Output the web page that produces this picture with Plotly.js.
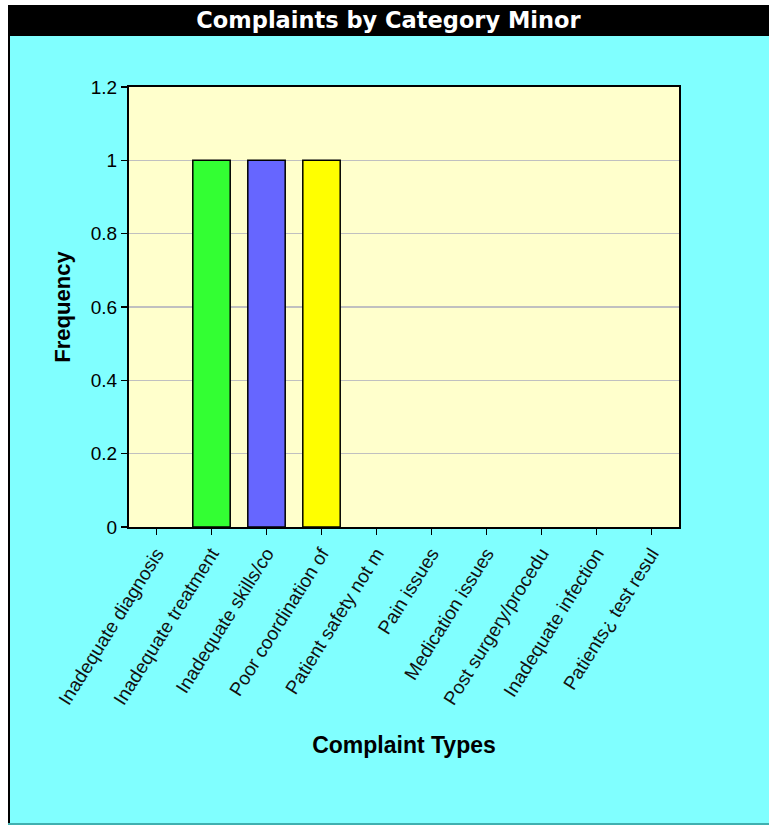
<!DOCTYPE html>
<html>
<head>
<meta charset="utf-8">
<script src="https://cdn.plot.ly/plotly-3.0.1.min.js"></script>
<style>html,body{margin:0;padding:0;background:#fff;}#chart{width:769px;height:825px;}</style>
</head>
<body>
<div id="chart"></div>
<script>
var categories = ["Inadequate diagnosis", "Inadequate treatment", "Inadequate skills/co", "Poor coordination of", "Patient safety not m", "Pain issues", "Medication issues", "Post surgery/procedu", "Inadequate infection", "Patients\u00bf test resul"];
var frequency = [0, 1, 1, 1, 0, 0, 0, 0, 0, 0];
var barColors = ["#ff3333", "#33ff33", "#6666ff", "#ffff00", "#ff33ff", "#33ffff", "#ff9933", "#999999", "#ff6699", "#66cc66"];
var yTicks = [0, 0.2, 0.4, 0.6, 0.8, 1, 1.2];

// plot area in page pixels
var L = 129, R = 679, T = 87, B = 527;
function px(x) { return (x - L) / (R - L); }
function py(y) { return (B - y) / (B - T); }

var trace = {
  type: "bar",
  x: categories,
  y: frequency,
  width: 0.68,
  marker: {
    color: barColors,
    line: { color: "#000", width: frequency.map(function (v) { return v > 0 ? 1.5 : 0; }) }
  },
  hoverinfo: "x+y"
};

var layout = {
  width: 769, height: 825,
  margin: { l: L, r: 769 - R, t: T, b: 825 - B, pad: 0 },
  paper_bgcolor: "#80ffff",
  plot_bgcolor: "#ffffcc",
  showlegend: false,
  title: {
    text: "<b>Complaints by Category Minor</b>",
    font: { family: "DejaVu Sans", size: 22.5, color: "#ffffff" },
    xref: "container", yref: "container",
    x: 388.5 / 769, y: 1 - 20 / 825, xanchor: "center", yanchor: "middle"
  },
  xaxis: {
    type: "category",
    range: [-0.5, 9.5],
    tickangle: -58,
    tickfont: { family: "Liberation Sans, Arial", size: 19, color: "#111" },
    ticks: "outside", ticklen: 6, tickwidth: 1.5, tickcolor: "#000",
    showline: true, linecolor: "#000", linewidth: 2, mirror: true,
    showgrid: false,
    automargin: false,
    title: { text: "<b>Complaint Types</b>", font: { family: "Liberation Sans, Arial", size: 23, color: "#000" }, standoff: 29 }
  },
  yaxis: {
    range: [0, 1.2],
    tickvals: yTicks,
    ticktext: yTicks.map(String),
    tickfont: { family: "Liberation Sans, Arial", size: 19, color: "#000" },
    ticks: "outside", ticklen: 6, tickwidth: 1.5, tickcolor: "#000",
    showline: true, linecolor: "#000", linewidth: 2, mirror: true,
    showgrid: true, gridcolor: "#c0c0c0", gridwidth: 1.5,
    zeroline: false,
    automargin: false,
    title: { text: "<b>Frequency</b>", font: { family: "Liberation Sans, Arial", size: 22, color: "#000" }, standoff: 14 }
  },
  shapes: [
    { type: "rect", xref: "paper", yref: "paper", x0: px(0), x1: px(8), y0: py(825), y1: py(0), fillcolor: "#ffffff", line: { width: 0 }, layer: "below" },
    { type: "rect", xref: "paper", yref: "paper", x0: px(0), x1: px(769), y0: py(5), y1: py(0), fillcolor: "#ffffff", line: { width: 0 }, layer: "below" },
    { type: "rect", xref: "paper", yref: "paper", x0: px(8), x1: px(769), y0: py(36), y1: py(5), fillcolor: "#000000", line: { width: 0 }, layer: "below" },
    { type: "rect", xref: "paper", yref: "paper", x0: px(8), x1: px(10), y0: py(825), y1: py(5), fillcolor: "#000000", line: { width: 0 }, layer: "below" },
    { type: "rect", xref: "paper", yref: "paper", x0: px(8), x1: px(769), y0: py(825), y1: py(823), fillcolor: "#40b0b0", line: { width: 0 }, layer: "below" }
  ]
};

Plotly.newPlot("chart", [trace], layout, { displayModeBar: false, staticPlot: true });
</script>
</body>
</html>
